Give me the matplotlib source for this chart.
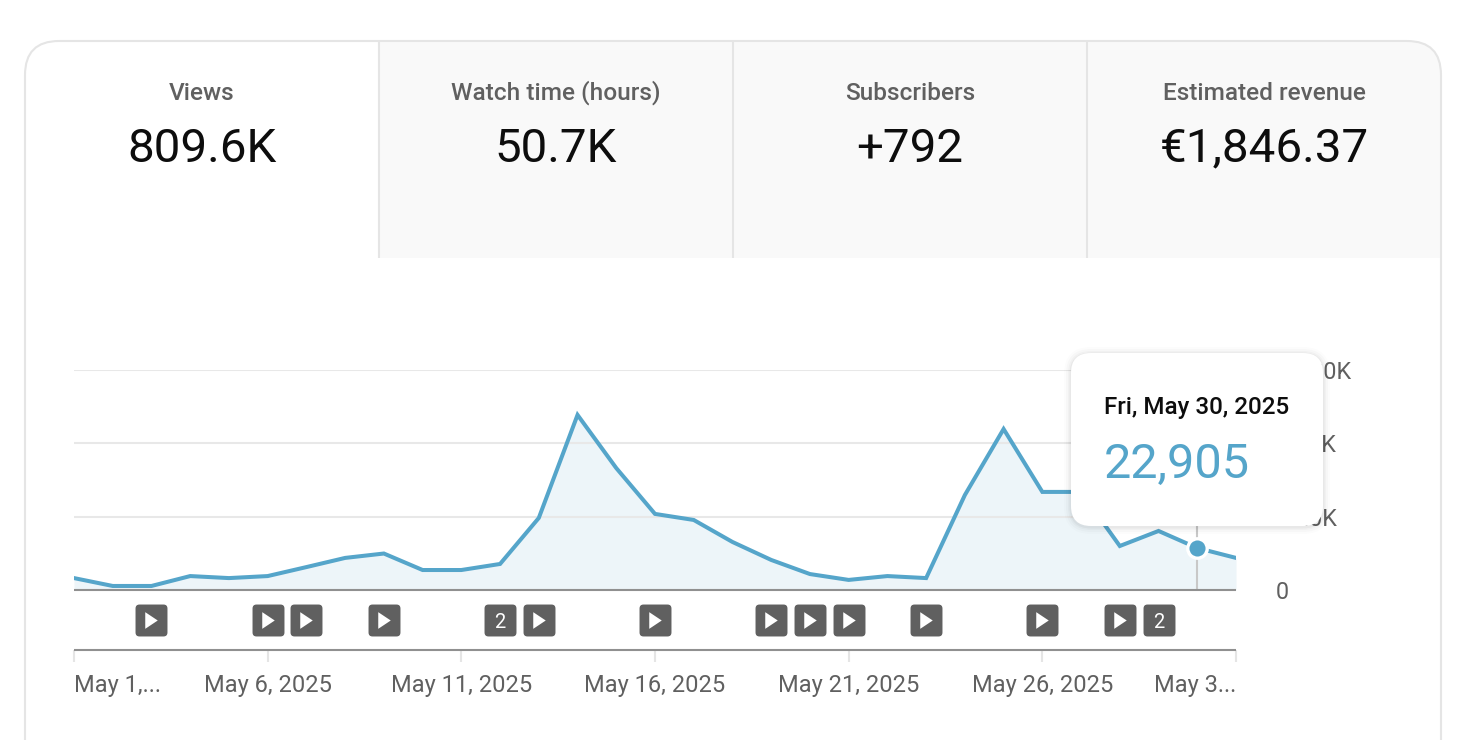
import matplotlib
matplotlib.use('Agg')
import matplotlib.pyplot as plt
from matplotlib.patches import FancyBboxPatch, Rectangle
from matplotlib.path import Path

plt.rcParams['font.family'] = ['Roboto', 'DejaVu Sans']

# datos
days = list(range(1, 32))
views = [6500, 2200, 2200, 7600, 6500, 7600, 12500, 17500, 19900, 10900, 10900, 14200, 39300, 95500, 66500, 41500,
         38200, 26200, 16400, 8700, 5500, 7600, 6500, 51800, 87800, 53500, 53500, 24000, 32200, 22905, 17500]
y_ticks = [0, 40000, 80000, 120000]
y_labels = ['0', '40K', '80K', '120K']
x_ticks = [1, 6, 11, 16, 21, 26, 31]
x_labels = ['May 1,...', 'May 6, 2025', 'May 11, 2025', 'May 16, 2025', 'May 21, 2025', 'May 26, 2025', 'May 3...']
play_days = [3, 6, 7, 9, 13, 16, 19, 20, 21, 23, 26, 28]
count_days = [12, 29]
count_labels = ['2', '2']
tab_titles = ['Views', 'Watch time (hours)', 'Subscribers', 'Estimated revenue']
tab_values = ['809.6K', '50.7K', '+792', '€1,846.37']
tooltip_date = 'Fri, May 30, 2025'
tooltip_value = '22,905'
tooltip_day = 30
tooltip_views = 22905

W, H = 1482, 740
BLUE = '#55a5ca'
GREY_TEXT = '#606060'
BORDER = '#e5e5e5'


def px_axes(x0, y0, x1, y1, **kw):
    return fig.add_axes([x0 / W, 1 - y1 / H, (x1 - x0) / W, (y1 - y0) / H], **kw)


def rounded_square(r=0.25):
    k = 1 - r
    verts = [(-k, -1), (k, -1), (1, -1), (1, -k), (1, k), (1, 1), (k, 1), (-k, 1), (-1, 1), (-1, k), (-1, -k), (-1, -1), (-k, -1)]
    codes = [Path.MOVETO, Path.LINETO, Path.CURVE3, Path.CURVE3, Path.LINETO, Path.CURVE3, Path.CURVE3,
             Path.LINETO, Path.CURVE3, Path.CURVE3, Path.LINETO, Path.CURVE3, Path.CURVE3]
    return Path(verts, codes)


fig = plt.figure(figsize=(W / 100, H / 100), dpi=100, facecolor='white')

# 1. marco y pestañas
bg = px_axes(0, 0, W, H)
bg.set_xlim(0, W)
bg.set_ylim(H, 0)
bg.axis('off')
frame = FancyBboxPatch((25, 41), 1416, 900, boxstyle='round,pad=0,rounding_size=34', fc='white', ec='none')
bg.add_patch(frame)
tabs = Rectangle((380, 41), 1061, 217, fc='#f9f9f9', ec='none')
bg.add_patch(tabs)
tabs.set_clip_path(frame)
outline = FancyBboxPatch((25, 41), 1416, 900, boxstyle='round,pad=0,rounding_size=34', fc='none', ec=BORDER, lw=1.5)
bg.add_patch(outline)
for x in [379, 733, 1087]:
    bg.plot([x, x], [41, 258], color=BORDER, lw=1.5, solid_capstyle='butt')
for cx, title, value in zip([202, 556, 910, 1264], tab_titles, tab_values):
    bg.text(cx, 100, title, ha='center', va='baseline', fontsize=17.6, color=GREY_TEXT, fontweight='medium')
    bg.text(cx, 161.5, value, ha='center', va='baseline', fontsize=34.2, color='#0d0d0d')

# 2. gráfico principal
ax = px_axes(74, 370, 1236, 590)
ax.patch.set_alpha(0)
ax.set_xlim(1, 31)
ax.set_ylim(0, 120000)
ax.fill_between(days, views, 0, color='#edf5f9', lw=0, zorder=1)
ax.plot(days, views, color=BLUE, lw=2.9, solid_joinstyle='miter', zorder=3)
ax.set_yticks(y_ticks)
ax.set_yticklabels([])
ax.set_xticks([])
ax.grid(True, axis='y', color='#e8e8e8', lw=1.5, zorder=0)
ax.tick_params(length=0)
for s in ['top', 'left', 'right']:
    ax.spines[s].set_visible(False)
ax.spines['bottom'].set_color('#909090')
ax.spines['bottom'].set_linewidth(1.5)
ax.spines['bottom'].set_capstyle('butt')
ax.spines['bottom'].set_zorder(4)
for val, lab, end in zip(y_ticks, y_labels, [1289, 1337, 1337, 1351]):
    ax.text((end - 74) / 1162, val, lab, transform=ax.get_yaxis_transform(), ha='right', va='center_baseline',
            fontsize=16.8, color=GREY_TEXT)
ax.axvline(tooltip_day, color='#c8c8c8', lw=1.5, zorder=2)
ax.plot([tooltip_day], [tooltip_views], marker='o', ms=14, mfc=BLUE, mec='white', mew=2.4, zorder=5, clip_on=False)

# 3. fila de marcadores y eje x
row = px_axes(74, 590, 1236, 650)
row.patch.set_alpha(0)
row.set_xlim(1, 31)
row.set_ylim(0, 1)
row.set_yticks([])
for s in ['top', 'left', 'right']:
    row.spines[s].set_visible(False)
row.spines['bottom'].set_color('#909090')
row.spines['bottom'].set_linewidth(1.5)
row.spines['bottom'].set_capstyle('butt')
row.set_xticks(x_ticks)
row.set_xticklabels(x_labels, fontsize=17, color=GREY_TEXT)
row.tick_params(axis='x', length=8.6, width=1.5, color=BORDER, pad=8.5)
row.get_xticklabels()[0].set_ha('left')
row.get_xticklabels()[-1].set_ha('right')
triangle = Path([(-6, -8), (6, 0), (-6, 8), (-6, -8)], [Path.MOVETO, Path.LINETO, Path.LINETO, Path.CLOSEPOLY])
all_days = play_days + count_days
row.plot(all_days, [0.5] * len(all_days), ls='none', marker=rounded_square(), ms=23, mfc='#606060', mec='none', clip_on=False)
row.plot(play_days, [0.5] * len(play_days), ls='none', marker=triangle, ms=12, mfc='white', mec='none', clip_on=False)
for d, lab in zip(count_days, count_labels):
    row.text(d, 0.5, lab, ha='center', va='center_baseline', fontsize=14.5, color='white')

# 4. tooltip
top = px_axes(0, 0, W, H)
top.patch.set_alpha(0)
top.set_xlim(0, W)
top.set_ylim(H, 0)
top.axis('off')
for grow, alpha in [(7, 0.012), (5, 0.018), (3, 0.025), (1.5, 0.035)]:
    top.add_patch(FancyBboxPatch((1071 - grow, 353 - grow + 1), 252 + 2 * grow, 173 + 2 * grow,
                                 boxstyle=f'round,pad=0,rounding_size={20 + grow}', fc='black', ec='none', alpha=alpha))
top.add_patch(FancyBboxPatch((1071, 353), 252, 173, boxstyle='round,pad=0,rounding_size=20', fc='white', ec='none'))
top.text(1104, 414, tooltip_date, ha='left', va='baseline', fontsize=17.4, color='#0d0d0d', fontweight='medium')
top.text(1104, 477.6, tooltip_value, ha='left', va='baseline', fontsize=35, color=BLUE)

fig.savefig('out.png', dpi=100)
